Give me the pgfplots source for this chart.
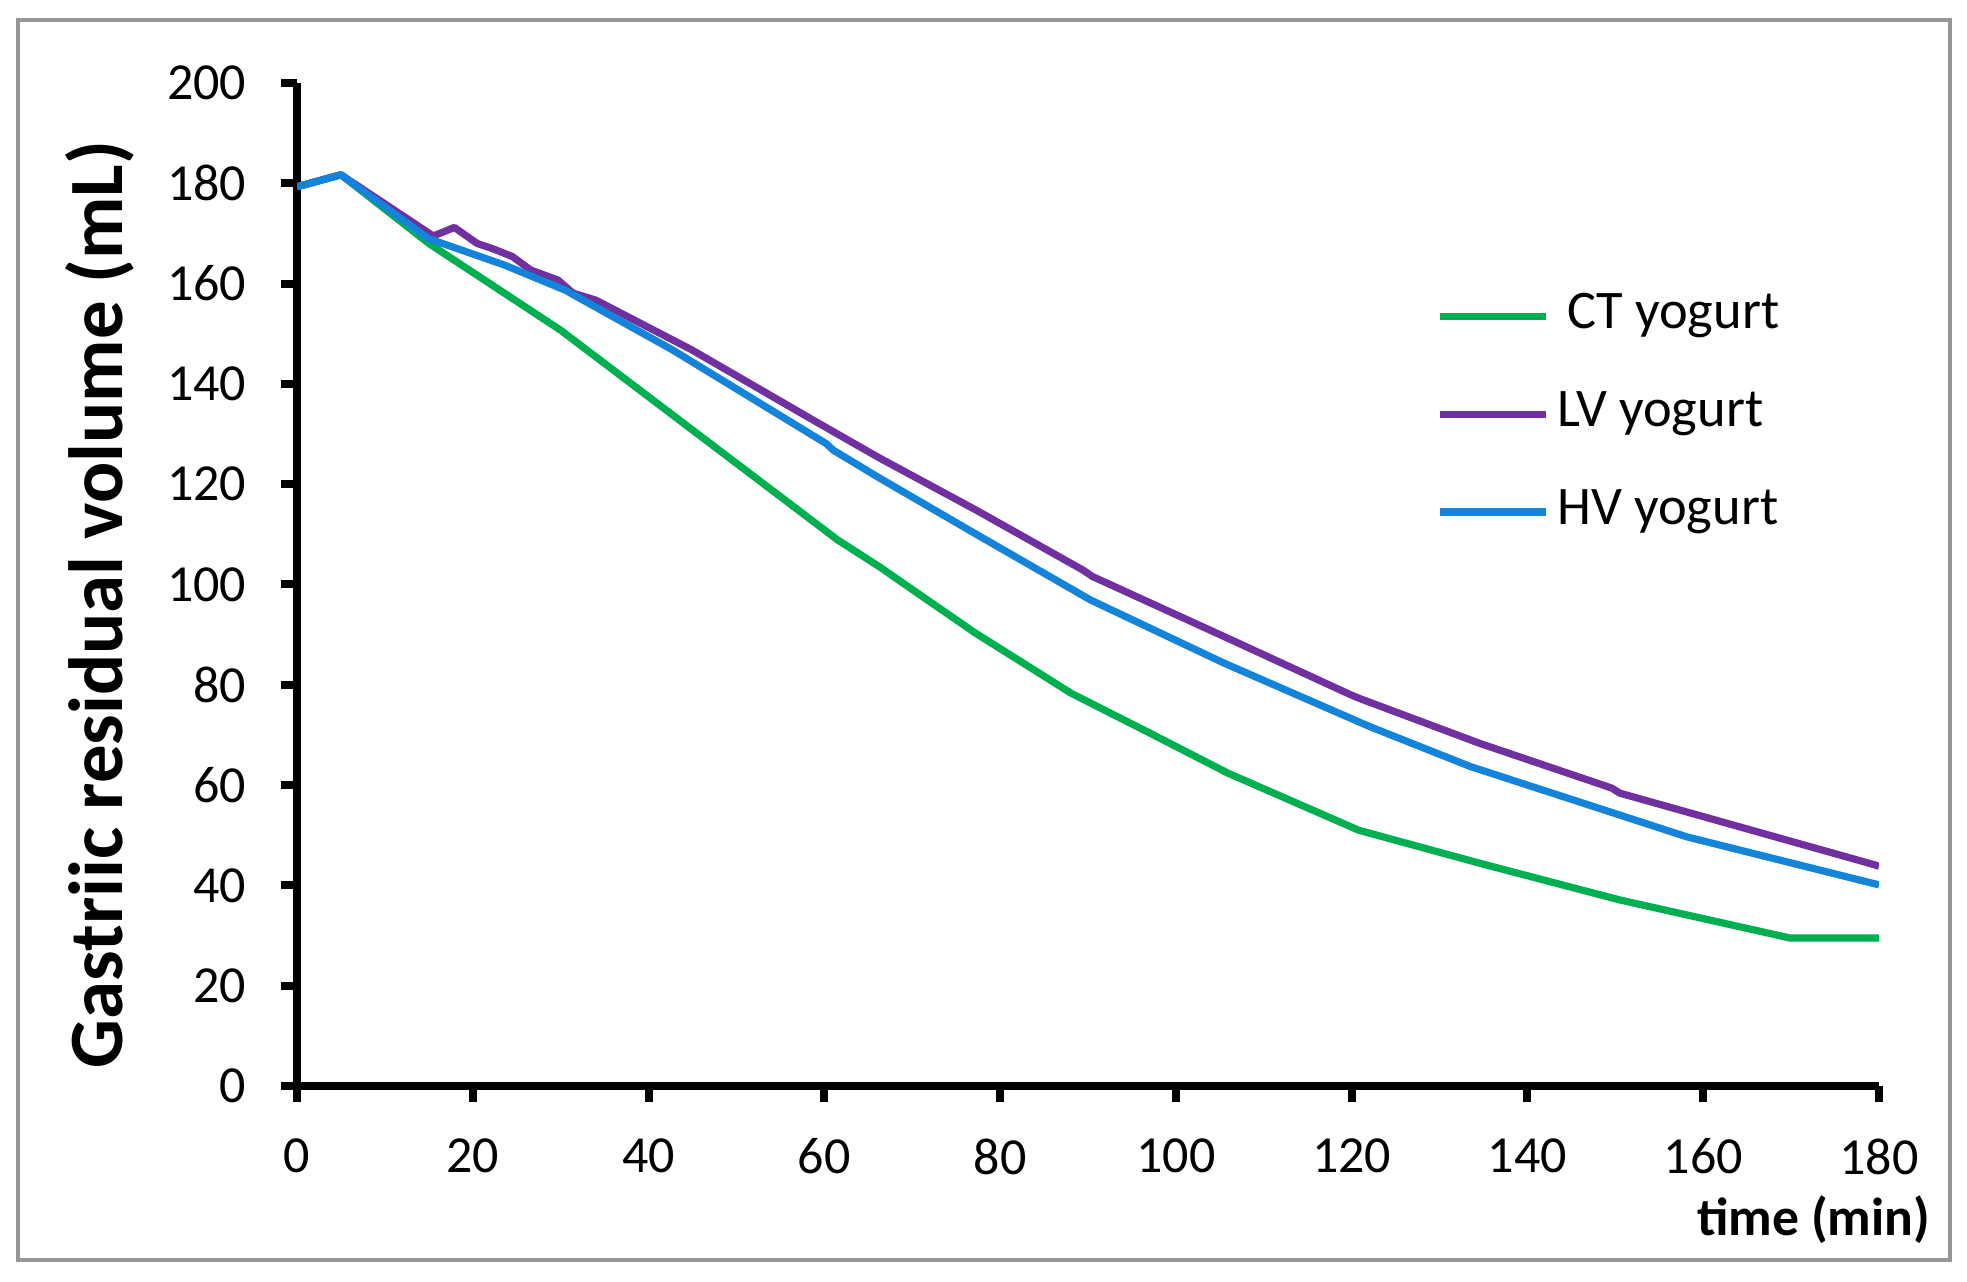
\documentclass[border=0pt]{standalone}
\usepackage{pgfplots}
\pgfplotsset{compat=1.18}
\usepackage{fontspec}
\setmainfont{Carlito}
\definecolor{ctgreen}{RGB}{0,176,80}
\definecolor{lvpurple}{RGB}{112,48,160}
\definecolor{hvblue}{RGB}{20,132,218}
\definecolor{framegray}{RGB}{150,150,150}
\begin{document}
\begin{tikzpicture}
\useasboundingbox (0,0) rectangle (491.75pt,320.5pt);
\draw[framegray, line width=0.9pt] (4.5pt,5.5pt) rectangle (487.5pt,315.5pt);
\begin{axis}[
  at={(74.25pt,49pt)}, anchor=south west,
  scale only axis, width=395.5pt, height=250.75pt,
  xmin=0, xmax=180, ymin=0, ymax=200,
  axis x line=bottom, axis y line=left,
  axis line style={-, line width=2pt, black},
  xtick={0,20,...,180}, ytick={0,20,...,200},
  tick align=outside, major tick length=4pt,
  tick style={line width=2pt, black},
  /pgf/number format/assume math mode=true,
  ticklabel style={font=\fontsize{13}{15}\selectfont},
  yticklabel style={anchor=east, inner sep=0pt, xshift=-8.5pt},
  xticklabel style={anchor=north, inner sep=0pt, yshift=-9pt},
  xlabel={time (min)},
  xlabel style={at={(axis description cs:1,0)}, anchor=east, inner sep=0pt,
    xshift=13pt, yshift=-33.5pt, font=\bfseries\fontsize{13.4}{15}\selectfont},
  ylabel={Gastriic residual volume (mL)},
  ylabel style={at={(axis description cs:0,0.48)}, anchor=center, inner sep=0pt,
    yshift=49.25pt, font=\bfseries\fontsize{19.2}{22}\selectfont},
  legend cell align=left,
  legend style={draw=none, fill=none, at={(axis cs:129.5,159.9)}, anchor=north west,
    inner sep=0pt, row sep=8.4pt,
    nodes={inner sep=2pt, text height=9pt, text depth=3pt},
    font=\fontsize{13.6}{15}\selectfont},
  legend image code/.code={\draw[#1] (0pt,0pt) -- (26.5pt,0pt);},
  every axis plot/.append style={line width=1.8pt, line join=round},
]
\addplot[ctgreen] coordinates {
(0,179.3) (5,181.7) (15,168.0) (30,150.7) (61.5,108.9) (66.3,103.5)
(70,99.0) (77.2,90.3) (88.1,78.3) (97,70.4) (105.9,62.4) (120.8,51.0)
(134.6,44.4) (150.5,37.1) (169.9,29.5) (180,29.5)
};
\addlegendentry{\hspace{2.5pt}CT yogurt}
\addplot[lvpurple] coordinates {
(0,179.3) (5,181.7) (15.5,169.5) (16.8,170.4) (17.9,171.2) (20.5,168.0)
(22.2,167.0) (24.5,165.4) (26.6,162.7) (29.7,160.7) (31.4,158.1) (34,156.7)
(44.9,146.8) (59.3,132.2) (66.3,125.2) (77.2,114.9) (89.4,102.9) (90.5,101.6)
(105.5,89.6) (119.9,78.0) (121,77.2) (134.6,68.3) (149.6,59.4) (150.5,58.4)
(179.5,44.1) (180,43.8)
};
\addlegendentry{LV yogurt}
\addplot[hvblue] coordinates {
(0,179.3) (5,181.7) (15,168.9) (15.9,168.4) (23.6,163.7) (30.5,158.7)
(42.7,146.8) (60.2,128.1) (61,126.8) (66.3,121.2) (77.2,110.1) (90.3,96.9)
(105.5,84.3) (122,71.7) (133.5,63.7) (158.1,49.7) (180,40.1)
};
\addlegendentry{HV yogurt}
\end{axis}
\end{tikzpicture}
\end{document}
